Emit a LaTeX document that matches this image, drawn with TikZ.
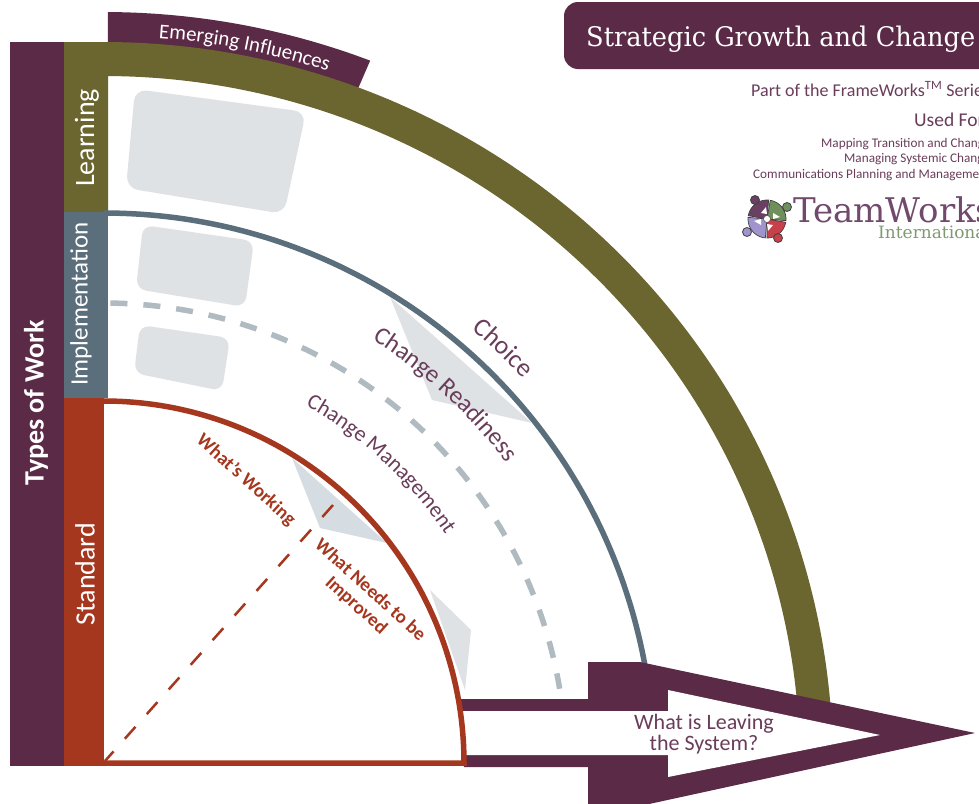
\documentclass[tikz,border=0pt]{standalone}
\usepackage{fontspec}
\setmainfont{Carlito}
\newfontfamily\slabfont{DejaVu Serif}
\newfontfamily\titlefont[FakeStretch=0.95]{DejaVu Serif}
\usetikzlibrary{decorations.text}
\definecolor{plum}{HTML}{5B2A47}
\definecolor{plumsoft}{HTML}{6A3D5A}
\definecolor{olivebar}{HTML}{6B652F}
\definecolor{tealbar}{HTML}{5A6E7B}
\definecolor{redbar}{HTML}{A5371F}
\definecolor{greyshape}{HTML}{DFE2E5}
\definecolor{greyblue}{HTML}{D5DCE2}
\definecolor{dashgrey}{HTML}{B0BAC1}
\definecolor{logotext}{HTML}{71496C}
\definecolor{logogreen}{HTML}{7F9A6F}
\definecolor{logopurple}{HTML}{6A3F63}
\definecolor{logomoss}{HTML}{6F8F5C}
\definecolor{logolav}{HTML}{A193CE}
\definecolor{logored}{HTML}{C8404A}
\newcommand{\fs}[1]{\fontsize{#1}{#1}\selectfont}
\newcommand{\logosector}[3]{\filldraw[fill=#1,draw=black!75,line width=.7pt] (767,219) -- plot[domain=#2:#3,samples=14] ({767+19*cos(\x)},{219-19*sin(\x)}) -- cycle;}
\tikzset{
  greyrect/.style={fill=greyshape,rounded corners=12pt},
  greytri/.style={fill=greyshape},
  sidelabel/.style={text=white,rotate=90,inner sep=0pt,anchor=center},
  plumtext/.style={text=plumsoft,inner sep=0pt,align=center},
  infotext/.style={text=plumsoft,inner sep=0pt,anchor=base west},
  redtext/.style={text=redbar,inner sep=0pt,align=center,rotate=-42},
  logohead/.style={draw=black!75,line width=0.8pt},
  logoarrow/.style={fill=white},
}
\begin{document}
\begin{tikzpicture}[x=1pt,y=-1pt,line cap=butt]
\useasboundingbox (0,0) rectangle (979,803);
\fill[white] (0,0) rectangle (979,803);
% left column
\fill[plum] (10,42) rectangle (64,766);
\node[sidelabel,font=\bfseries\fs{28}] (types) at (36,403) {Types of Work};
% emerging influences band
\fill[plum] plot[domain=89.7:69.3,samples=40] ({104+753*cos(\x)},{765-753*sin(\x)}) -- (357,91) -- (350,100) -- (108,60) -- cycle;
\path[decorate,decoration={text along path,text align=left,text={|\fs{21}\color{white}|Emerging Influences}}]
  plot[domain=85.7:66,samples=60] ({104+729*cos(\x)},{765-729*sin(\x)});
% olive band
\fill[olivebar] (64,42) -- plot[domain=90:4.4,samples=120] ({104+729*cos(\x)},{765-723*sin(\x)})
  -- plot[domain=4.4:90,samples=120] ({104+696*cos(\x)},{765-689*sin(\x)}) -- (108,76) -- (108,212) -- (64,212) -- cycle;
\node[sidelabel,font=\fs{28}] (learning) at (87,138) {Learning};
% teal
\fill[tealbar] (64,212) rectangle (108,398);
\node[sidelabel,font=\fs{25}] (implementation) at (81,304) {Implementation};
\draw[tealbar,line width=5.5pt] plot[domain=90:9.5,samples=100] ({104+550*cos(\x)},{765-552*sin(\x)});
% red column
\fill[redbar] (64,398) rectangle (104,766);
\node[sidelabel,font=\fs{28}] (standard) at (85,574) {Standard};
% grey shapes
\fill[greyrect] (135,89) -- (306,112) -- (284,214) -- (126,188) -- cycle;
\fill[greyrect,rounded corners=10pt] (143,225) -- (254,241) -- (245,307) -- (136,289) -- cycle;
\fill[greyrect,rounded corners=10pt] (140,325) -- (230,338) -- (222,391) -- (134,373) -- cycle;
\fill[greytri] (390,297) -- (432,400) -- (532,423) -- cycle;
\fill[greytri] (430,590) -- (471,630) -- (465,690) -- cycle;
\fill[greyblue] (292,458) -- (320,528) -- (387,543) -- cycle;
% dashed arc
\draw[dashgrey,line width=5.5pt,dash pattern=on 17pt off 16pt] plot[domain=89.2:9.5,samples=120] ({104+462*cos(\x)},{765-462*sin(\x)});
% arrow
\fill[plum] (459,699) -- (588,699) -- (588,662) -- (640,662) -- (975,733) -- (640,806) -- (588,806) -- (588,767) -- (464,767) -- cycle;
\fill[white] (459,711) -- (668,711) -- (668,690) -- (880,735) -- (668,777) -- (668,755) -- (459,755) -- cycle;
\node[plumtext,font=\fs{22}] (leaving) at (704,734) {What is Leaving\\[-1pt]the System?};
% red quadrant
\draw[redbar,line width=5.5pt,line join=miter] (104,763) -- plot[domain=0:90,samples=100] ({104+360*cos(\x)},{763-362*sin(\x)});
\draw[redbar,line width=2.5pt,dash pattern=on 16pt off 17pt] (333,505) -- (105,761);
% arc labels
\path[decorate,decoration={text along path,text align=left,text={|\fs{26}\color{plumsoft}|Choice}}]
  plot[domain=49.8:36,samples=60] ({104+570*cos(\x)},{765-570*sin(\x)});
\path[decorate,decoration={text along path,text align=left,text={|\fs{25}\color{plumsoft}|Change Readiness}}]
  plot[domain=57.8:30,samples=80] ({104+503*cos(\x)},{765-503*sin(\x)});
\path[decorate,decoration={text along path,text align=left,text={|\fs{22}\color{plumsoft}|Change Management}}]
  plot[domain=60.7:28,samples=80] ({104+412*cos(\x)},{765-412*sin(\x)});
\node[redtext,font=\bfseries\fs{19}] (working) at (246,480) {What's Working};
\node[redtext,font=\bfseries\fs{19}] (needs) at (363,598) {What Needs to be\\[2pt]Improved};
% title
\fill[plum] (990,2) -- (578,2) arc[start angle=90,end angle=180,radius=14pt] -- (564,55) arc[start angle=180,end angle=270,radius=14pt] -- (990,69) -- cycle;
\node[anchor=base west,inner sep=0pt,text=white,font=\titlefont\fs{27}] (title) at (586,46) {Strategic Growth and Change};
% info
\node[infotext,font=\fs{18}] (part) at (751,96) {Part of the FrameWorks\textsuperscript{TM} Series};
\node[infotext,font=\fs{19.5}] (usedfor) at (914,126) {Used For};
\node[infotext,font=\fs{13.2}] (map) at (821,147) {Mapping Transition and Change};
\node[infotext,font=\fs{13.2}] (manage) at (844,162) {Managing Systemic Change};
\node[infotext,font=\fs{13.2}] (comm) at (753,178) {Communications Planning and Management};
% logo
\logosector{logopurple}{85}{170}
\logosector{logomoss}{-5}{80}
\logosector{logolav}{175}{265}
\logosector{logored}{270}{350}
\fill[logopurple,logohead] (755,200) circle (4.5pt);
\fill[logomoss,logohead] (787,207) circle (4.5pt);
\fill[logolav,logohead] (747,232) circle (4.5pt);
\fill[logored,logohead] (778,238) circle (4.5pt);
\fill[logoarrow] (761,213) -- (766,207) -- (767,214) -- cycle;
\fill[logoarrow] (773,213) -- (780,217) -- (773,219) -- cycle;
\fill[logoarrow] (761,225) -- (754,221) -- (761,219) -- cycle;
\fill[logoarrow] (773,225) -- (768,231) -- (767,224) -- cycle;
\filldraw[fill=white,draw=black!70,line width=.5pt] (767,219) circle (3.5pt);
\node[anchor=base west,inner sep=0pt,text=logotext,font=\slabfont\fs{34}] (teamworks) at (793,222) {TeamWorks};
\node[anchor=base west,inner sep=0pt,text=logogreen,font=\slabfont\fs{17}] (intl) at (878,238) {International};
\end{tikzpicture}
\end{document}
